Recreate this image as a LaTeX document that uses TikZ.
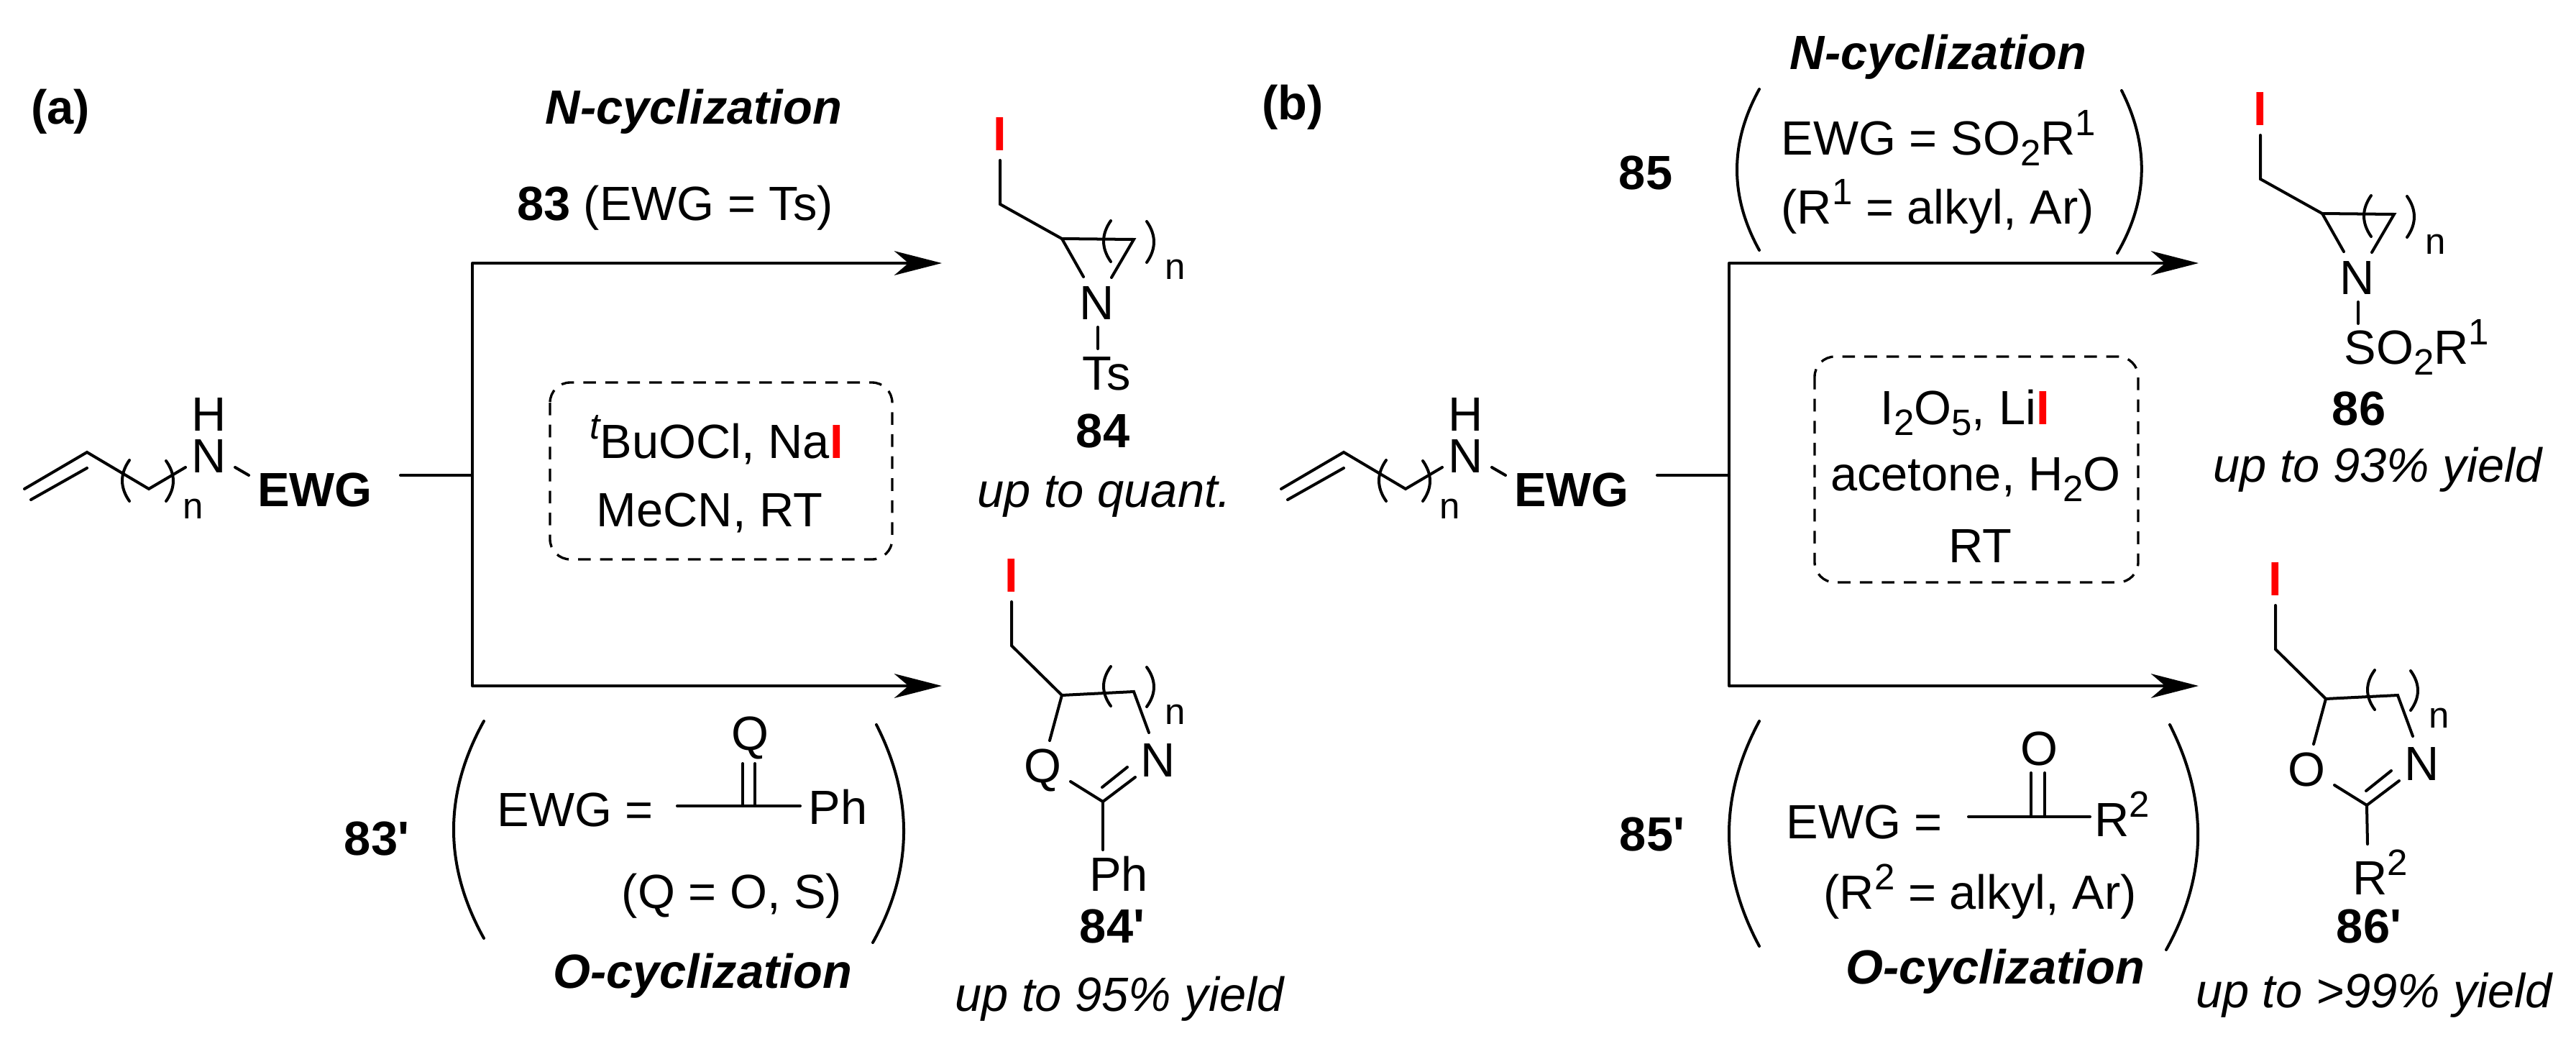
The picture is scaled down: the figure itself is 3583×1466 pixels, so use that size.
\documentclass[tikz,border=0pt]{standalone}
\usepackage{fontspec}
\setmainfont{Liberation Sans}[Ligatures=TeXOff]
\usetikzlibrary{arrows.meta}
\tikzset{
  bondline/.style={line width=1.14pt,line cap=round,line join=miter},
  rxnline/.style={bondline,line cap=butt,-{Stealth[length=18.8pt,width=9.6pt,inset=5.6pt]}},
  condbox/.style={line width=0.95pt,dash pattern=on 5pt off 3.7pt,rounded corners=8pt},
  lbl/.style={anchor=base,inner sep=0pt,font=\fontsize{19}{19}\selectfont},
  lbll/.style={lbl,anchor=base west},
  lblb/.style={lbl,font=\fontsize{19}{19}\selectfont\bfseries},
  lblit/.style={lbl,font=\fontsize{19}{19}\selectfont\itshape},
  lblbit/.style={lbl,font=\fontsize{19}{19}\selectfont\bfseries\itshape},
  lbln/.style={anchor=base west,inner sep=0pt,font=\fontsize{14.5}{14.5}\selectfont}
}
\newcommand{\bond}[4]{\draw[bondline] (#1,#2) -- (#3,#4);}
\newcommand{\hook}[5]{\draw[bondline] (#1,#2) .. controls (#3,{#2+(#5-#2)/3}) and (#3,{#2+2*(#5-#2)/3}) .. (#4,#5);}
\newcommand{\redI}{\textcolor{red}{\textbf{I}}}
\newcommand{\sups}[1]{\raisebox{7.4pt}{\fontsize{14.5}{14.5}\selectfont #1}}
\newcommand{\subs}[1]{\raisebox{-4.3pt}{\fontsize{14.5}{14.5}\selectfont #1}}
% allyl amine with its fork of two arrows
\newcommand{\amine}[2]{
  \begin{scope}[shift={(#2,0)}]
  \draw[bondline] (34,680) -- (121,629) -- (207,680) -- (258,650);
  \bond{43}{695}{121}{651}
  \hook{180}{640}{166.7}{180}{697}
  \hook{231}{641}{244.3}{231}{697}
  \bond{327}{650}{346}{661}
  \node[lbl] (#1H) at (291,599) {H};
  \node[lbl] (#1N) at (291,657) {N};
  \node[lbln] (#1n) at (254,721) {n};
  \node[lblb] (#1EWG) at (438,704) {EWG};
  % fork
  \coordinate (#1stub) at (557,661);
  \coordinate (#1mid) at (657,661);
  \coordinate (#1top) at (657,366);
  \coordinate (#1bot) at (657,954);
  \coordinate (#1tipt) at (1310,366);
  \coordinate (#1tipb) at (1310,954);
  \draw[bondline] (#1stub) -- (#1mid);
  \draw[bondline] (#1top) -- (#1bot);
  \draw[rxnline] (#1top) -- (#1tipt);
  \draw[rxnline] (#1bot) -- (#1tipb);
  \end{scope}
}
% aziridine with the iodomethyl arm
\newcommand{\aziridine}[3]{
  \begin{scope}[shift={(#2,#3)}]
  \node[lbl] (#1I) at (1391,209) {\redI};
  \draw[bondline] (1391,223) -- (1391,284) -- (1477,332) -- (1577,333) -- (1546,386);
  \bond{1477}{332}{1507}{385}
  \hook{1545}{307}{1531.7}{1545}{364}
  \hook{1595}{308}{1608.3}{1595}{365}
  \node[lbln] (#1n) at (1620,388) {n};
  \node[lbl] (#1N) at (1526,444) {N};
  \bond{1527}{455}{1527}{485}
  \end{scope}
}
% oxazoline with the iodomethyl arm
\newcommand{\oxazoline}[4]{
  \begin{scope}[shift={(#2,#3)}]
  \node[lbl] (#1I) at (1407,823) {\redI};
  \draw[bondline] (1407,837) -- (1407,898) -- (1477,967) -- (1577,962) -- (1598,1019);
  \bond{1477}{967}{1460}{1030}
  \hook{1545}{927}{1531.7}{1545}{982}
  \hook{1595}{928}{1608.3}{1595}{983}
  \node[lbln] (#1n) at (1620,1007) {n};
  \node[lbl] (#1Q) at (1450,1088) {#4};
  \node[lbl] (#1N) at (1611,1080) {N};
  \draw[bondline] (1489,1087) -- (1534,1115) -- (1579,1081);
  \bond{1533}{1095}{1568}{1067}
  \coordinate (#1vtx) at (1534,1115);
  \end{scope}
}
\begin{document}
\begin{tikzpicture}[x=0.01cm,y=-0.01cm]
\useasboundingbox (0,0) rectangle (3583,1466);
% panel a
\node[lblb] (apanel) at (84,172) {(a)};
\amine{a}{0}
\node[lblbit] (ancyc) at (965,172) {N-cyclization};
\node[lbl] (a83) at (939,306) {\textbf{83} (EWG = Ts)};
\aziridine{az}{0}{0}
\node[lbl] (aTs) at (1539,542) {Ts};
\node[lblb] (a84) at (1534,622) {84};
\node[lblit] (ay84) at (1536,705) {up to quant.};
\draw[condbox] (765,532) rectangle (1241,778);
\node[lbll] (acond1) at (820,637) {\raisebox{7.4pt}{\fontsize{14.5}{14.5}\selectfont\itshape t}BuOCl, Na\redI};
\node[lbl] (acond2) at (987,732) {MeCN, RT};
\oxazoline{ox}{0}{0}{Q}
\draw[bondline] (oxvtx) -- (1534,1182);
\node[lbl] (aPh) at (1556,1239) {Ph};
\node[lblb] (a84p) at (1547,1311) {84'};
\node[lblit] (ay84p) at (1557,1406) {up to 95\% yield};
\node[lblb] (a83p) at (524,1189) {83'};
\hook{673}{1003}{617}{673}{1305}
\hook{1219}{1008}{1270.5}{1214}{1311}
\node[lbll] (aewg) at (691,1149) {EWG =};
\bond{942}{1121}{1113}{1121}
\bond{1033}{1062}{1033}{1121}
\bond{1050}{1062}{1050}{1121}
\node[lbl] (aQ) at (1043,1043) {Q};
\node[lbll] (aPhc) at (1124,1146) {Ph};
\node[lbl] (aqdef) at (1018,1263) {(Q = O, S)};
\node[lblbit] (aocyc) at (977,1374) {O-cyclization};
% panel b
\node[lblb] (bpanel) at (1798,166) {(b)};
\amine{b}{1748}
\node[lblbit] (bncyc) at (2696,96) {N-cyclization};
\node[lblb] (b85) at (2289,263) {85};
\hook{2447}{124}{2405.7}{2447}{348}
\hook{2951}{126}{2989}{2945}{352}
\node[lbll] (bewg) at (2477,215) {EWG = SO\subs{2}R\sups{1}};
\node[lbll] (brdef) at (2477,311) {(R\sups{1} = alkyl, Ar)};
\aziridine{bz}{1753}{-35}
\node[lbll] (bso2) at (3260,506) {SO\subs{2}R\sups{1}};
\node[lblb] (b86) at (3281,591) {86};
\node[lblit] (by86) at (3307,670) {up to 93\% yield};
\draw[condbox] (2524,496) rectangle (2974,810);
\node[lbll] (bcond1) at (2615,590) {I\subs{2}O\subs{5}, Li\redI};
\node[lbl] (bcond2) at (2748,682) {acetone, H\subs{2}O};
\node[lbl] (bcond3) at (2754,782) {RT};
\oxazoline{bx}{1758}{5}{O}
\draw[bondline] (bxvtx) -- (3293,1174);
\node[lbll] (bR2) at (3272,1244) {R\sups{2}};
\node[lblb] (b86p) at (3295,1311) {86'};
\node[lblit] (by86p) at (3302,1401) {up to >99\% yield};
\node[lblb] (b85p) at (2298,1183) {85'};
\hook{2447}{1003}{2391}{2447}{1316}
\hook{3018}{1008}{3071}{3013}{1321}
\node[lbll] (bewg2) at (2484,1166) {EWG =};
\bond{2738}{1136}{2907}{1136}
\bond{2825}{1075}{2825}{1136}
\bond{2844}{1075}{2844}{1136}
\node[lbl] (bO) at (2836,1064) {O};
\node[lbll] (bRc) at (2913,1163) {R\sups{2}};
\node[lbll] (brdef2) at (2536,1264) {(R\sups{2} = alkyl, Ar)};
\node[lblbit] (bocyc) at (2775,1368) {O-cyclization};
\end{tikzpicture}
\end{document}
